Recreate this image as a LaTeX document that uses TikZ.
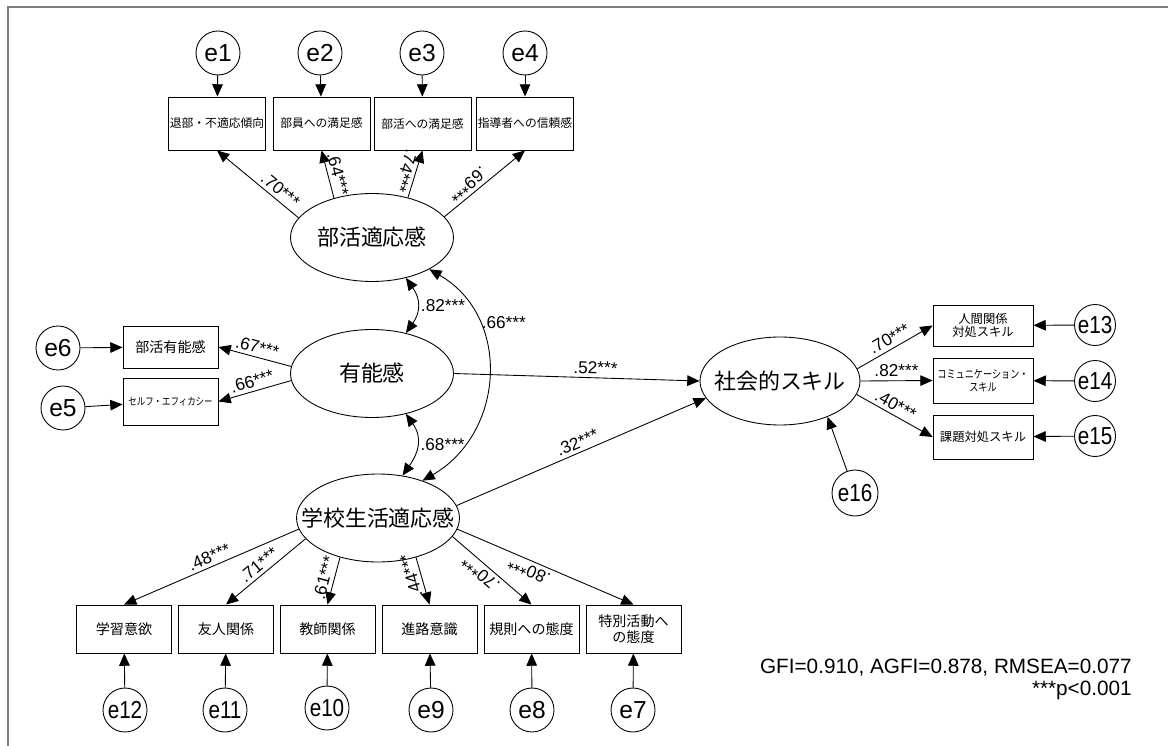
\documentclass[tikz,border=0pt]{standalone}
\usepackage{fontspec}
\setmainfont{Liberation Sans}
\newfontfamily\jpfont{Noto Sans CJK JP}
\newfontfamily\jpnarrow[FakeStretch=0.8]{Noto Sans CJK JP}
\newfontfamily\latfont{Liberation Sans}
\newfontfamily\latnarrow[FakeStretch=0.84]{Liberation Sans}
\usetikzlibrary{shapes,arrows.meta}

\tikzset{
  >={Triangle[length=7pt,width=6pt]},
  latent/.style={draw, ellipse, inner sep=0pt, minimum width=3.26cm, minimum height=1.76cm,
    label={[font=\jpfont\fontsize{12.5}{14}\selectfont]center:#1}},
  ind/.style={draw, rectangle, inner sep=0pt, align=center},
  obstop/.style={ind, minimum width=1.94cm, minimum height=1.06cm, font=\jpfont\fontsize{6.7}{7.5}\selectfont},
  obsbot/.style={ind, minimum width=1.9cm, minimum height=0.96cm, font=\jpfont\fontsize{8}{9}\selectfont},
  obsleft/.style={ind, minimum width=1.9cm, font=\jpfont\fontsize{8}{9}\selectfont},
  obsright/.style={ind, minimum width=2cm, font=\jpfont\fontsize{7}{7.5}\selectfont},
  err/.style={draw, circle, inner sep=0pt, minimum size=0.88cm, font=\latfont\fontsize{14}{16}\selectfont},
  errn/.style={err, font=\latnarrow\fontsize{14}{16}\selectfont},
  coef/.style={sloped, allow upside down, inner sep=2pt, font=\latfont\fontsize{9.8}{10}\selectfont},
  covlab/.style={inner sep=2pt, font=\latfont\fontsize{9.8}{10}\selectfont},
}

\begin{document}
\begin{tikzpicture}[x=0.02cm, y=-0.02cm, line width=0.5pt]
\useasboundingbox (0,0) rectangle (1168,746);
\draw[gray, line width=1.2pt] (8,746) -- (8,7) -- (1168,7);

% latent variables
\node[latent=部活適応感] (F1) at (372,237.5) {};
\node[latent=有能感] (F2) at (372,373.5) {};
\node[latent=学校生活適応感] (F3) at (378,518) {};
\node[latent=社会的スキル, minimum width=3.2cm] (F4) at (780,381) {};

% 部活適応感
\node[obstop] (b1) at (217,123.5) {退部・不適応傾向};
\node[obstop] (b2) at (321.5,123.5) {部員への満足感};
\node[obstop] (b3) at (422.5,123.5) {部活への満足感};
\node[obstop] (b4) at (525,123.5) {指導者への信頼感};
\node[err] (e1) at (218,53) {e1};
\node[err] (e2) at (320,53) {e2};
\node[err] (e3) at (422,53) {e3};
\node[err] (e4) at (525,53) {e4};
\draw[->] (e1) -- (b1);
\draw[->] (e2) -- (b2);
\draw[->] (e3) -- (b3);
\draw[->] (e4) -- (b4);
\draw[<-] (b1.south) -- (F1.165) node[coef, pos=.7, above] {.70***};
\draw[<-] (b2.south) -- (F1.134) node[coef, pos=.55, above] {.64***};
\draw[<-] (b3.south) -- (F1.48) node[coef, pos=.5, below] {.74***};
\draw[<-] (b4.south) -- (F1.16) node[coef, pos=.63, below] {.69***};

% 有能感
\node[obsleft, minimum height=0.84cm] (b6) at (170.5,347) {部活有能感};
\node[obsleft, minimum height=0.94cm, font=\jpnarrow\fontsize{6}{7}\selectfont] (b5) at (170.5,401.5) {セルフ・エフィカシー};
\node[err] (e6) at (58,348) {e6};
\node[err] (e5) at (63,408) {e5};
\draw[->] (e6) -- (b6);
\draw[->] (e5) -- (b5);
\draw[<-] (b6.east) -- (F2.175) node[coef, pos=.5, above] {.67***};
\draw[<-] (b5.east) -- (F2.185) node[coef, pos=.5, above] {.66***};

% 学校生活適応感
\node[obsbot] (b12) at (124,629) {学習意欲};
\node[obsbot] (b11) at (226,629) {友人関係};
\node[obsbot] (b10) at (327.5,629) {教師関係};
\node[obsbot] (b9) at (429.5,629) {進路意識};
\node[obsbot] (b8) at (531.5,629) {規則への態度};
\node[obsbot] (b7) at (633.5,629) {特別活動へ\\の態度};
\node[errn] (e12) at (125,710) {e12};
\node[errn] (e11) at (225,710) {e11};
\node[errn] (e10) at (327,708) {e10};
\node[err] (e9) at (431,710) {e9};
\node[err] (e8) at (532,710) {e8};
\node[err] (e7) at (633,710) {e7};
\draw[->] (e12) -- (b12);
\draw[->] (e11) -- (b11);
\draw[->] (e10) -- (b10);
\draw[->] (e9) -- (b9);
\draw[->] (e8) -- (b8);
\draw[->] (e7) -- (b7);
\draw[<-] (b12.north) -- (F3.188) node[coef, pos=.51, above] {.48***};
\draw[<-] (b11.north) -- (F3.196) node[coef, pos=.49, above] {.71***};
\draw[<-] (b10.north) -- (F3.226) node[coef, pos=.51, above] {.61***};
\draw[<-] (b9.north) -- (F3.-46) node[coef, pos=.67, above] {.44***};
\draw[<-] (b8.north) -- (F3.-14) node[coef, pos=.56, above] {.70***};
\draw[<-] (b7.north) -- (F3.-8) node[coef, pos=.57, above] {.80***};

% 社会的スキル
\node[obsright, minimum height=0.82cm] (r1) at (983,325.5) {人間関係\\対処スキル};
\node[obsright, minimum height=0.9cm, font=\jpnarrow\fontsize{6.5}{7.5}\selectfont] (r2) at (983,380.5) {コミュニケーション・\\スキル};
\node[obsright, minimum height=0.88cm] (r3) at (983,437) {課題対処スキル};
\node[errn, minimum size=0.82cm] (e13) at (1095,325) {e13};
\node[errn, minimum size=0.82cm] (e14) at (1095,381) {e14};
\node[errn, minimum size=0.82cm] (e15) at (1095,436) {e15};
\node[errn, minimum size=0.92cm] (e16) at (855,493) {e16};
\draw[->] (e13) -- (r1);
\draw[->] (e14) -- (r2);
\draw[->] (e15) -- (r3);
\draw[->] (e16) -- (F4.-37);
\draw[->] (F4.9) -- (r1.west) node[coef, pos=.49, above] {.70***};
\draw[->] (F4.east) -- (r2.west) node[coef, pos=.5, above] {.82***};
\draw[->] (F4.-10) -- (r3.west) node[coef, pos=.45, above] {.40***};

% paths and covariances
\draw[->] (F2.east) -- (F4.west) node[coef, pos=.575, above] {.52***};
\draw[->] (F3.9) -- (F4.193) node[coef, pos=.5, above] {.32***};
\draw[<->] (F1.-50) to[out=-55, in=55, looseness=1.2] node[covlab, right, pos=.5] {.82***} (F2.50);
\draw[<->] (F2.-50) to[out=-55, in=55, looseness=1.2] node[covlab, right, pos=.5] {.68***} (F3.60);
\draw[<->] (F1.-29) to[out=-30, in=30, looseness=1.15] node[covlab, right, pos=.28] {.66***} (F3.40);

\node[anchor=east, align=right, font=\latfont\fontsize{11.8}{12.5}\selectfont] (fit) at (1138,679)
  {GFI=0.910, AGFI=0.878, RMSEA=0.077\\***p<0.001};
\end{tikzpicture}
\end{document}
